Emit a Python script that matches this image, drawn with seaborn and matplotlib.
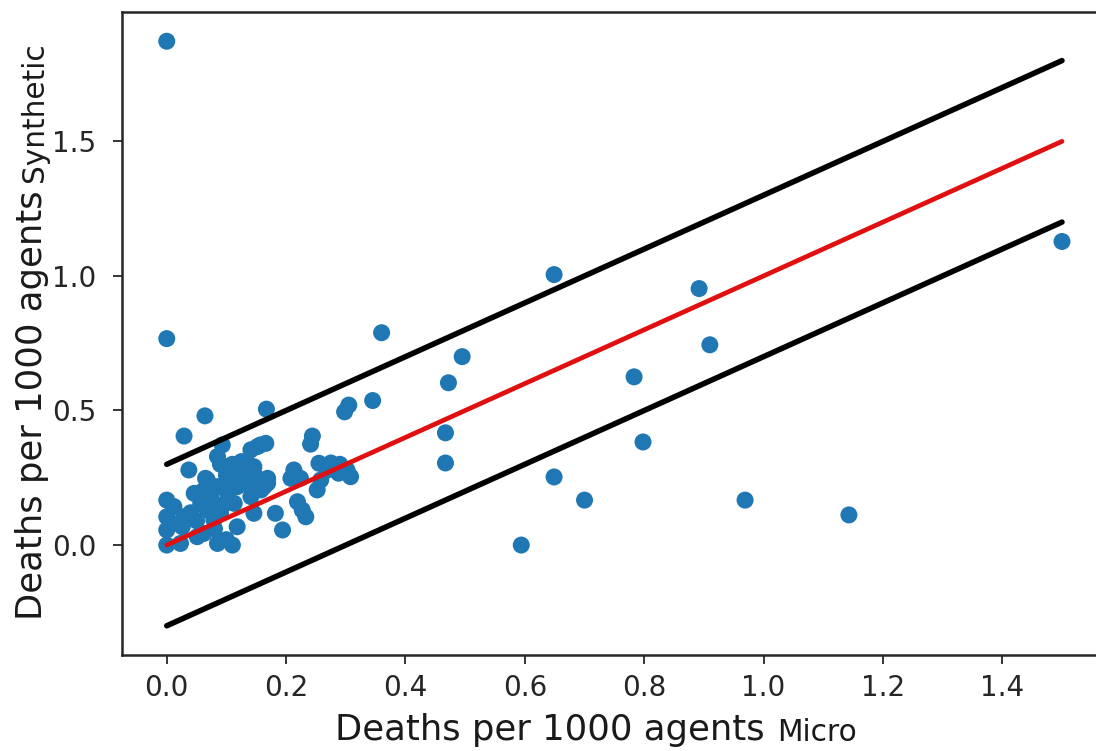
import matplotlib
matplotlib.use("Agg")
import matplotlib.pyplot as plt
import seaborn as sns
import pandas as pd

# ---- data ----
micro = [
    0.000, 0.000, 0.649, 0.360, 0.892, 0.910, 0.495, 0.783, 0.472, 0.345,
    0.305, 0.298, 0.467, 0.798, 0.467, 0.649, 0.700, 0.969, 1.143, 0.594,
    1.500,
    0.064, 0.029, 0.167, 0.244, 0.241, 0.093, 0.157, 0.141, 0.166, 0.152,
    0.037, 0.085, 0.065, 0.068, 0.107, 0.129, 0.135, 0.146, 0.146, 0.169,
    0.169, 0.163, 0.158, 0.085, 0.102, 0.118, 0.046, 0.057, 0.000, 0.000,
    0.000, 0.000, 0.029, 0.026, 0.068, 0.079, 0.062, 0.051, 0.085, 0.110,
    0.146, 0.182, 0.118, 0.023, 0.012, 0.113, 0.141, 0.213, 0.224, 0.208,
    0.255, 0.269, 0.258, 0.252, 0.302, 0.308, 0.288, 0.219, 0.233, 0.227,
    0.194, 0.010, 0.040, 0.050, 0.090, 0.100, 0.120, 0.130, 0.095, 0.075,
    0.110, 0.080, 0.100, 0.275, 0.290, 0.060, 0.105, 0.125, 0.090, 0.140,
]
synthetic = [
    1.872, 0.767, 1.005, 0.789, 0.953, 0.744, 0.700, 0.625, 0.603, 0.537,
    0.520, 0.495, 0.417, 0.383, 0.305, 0.253, 0.167, 0.167, 0.112, 0.000,
    1.128,
    0.480, 0.405, 0.505, 0.405, 0.375, 0.372, 0.372, 0.354, 0.378, 0.366,
    0.279, 0.329, 0.248, 0.242, 0.279, 0.268, 0.304, 0.291, 0.267, 0.248,
    0.230, 0.217, 0.205, 0.217, 0.192, 0.217, 0.192, 0.155, 0.167, 0.105,
    0.056, 0.000, 0.105, 0.068, 0.130, 0.093, 0.043, 0.031, 0.006, 0.000,
    0.118, 0.118, 0.068, 0.006, 0.143, 0.155, 0.180, 0.279, 0.248, 0.248,
    0.304, 0.279, 0.242, 0.205, 0.279, 0.254, 0.267, 0.161, 0.105, 0.130,
    0.056, 0.080, 0.120, 0.090, 0.300, 0.260, 0.250, 0.230, 0.150, 0.170,
    0.300, 0.060, 0.020, 0.305, 0.300, 0.200, 0.240, 0.310, 0.120, 0.240,
]
line_x = [0.0, 1.5]
identity_y = [0.0, 1.5]
upper_y = [0.3, 1.8]
lower_y = [-0.3, 1.2]

xticks = [0.0, 0.2, 0.4, 0.6, 0.8, 1.0, 1.2, 1.4]
yticks = [0.0, 0.5, 1.0, 1.5]

x_label = "Deaths per 1000 agents"
x_sub = "Micro"
y_label = "Deaths per 1000 agents"
y_sub = "Synthetic"

# ---- plot ----
sns.set_style("ticks")
plt.rcParams["font.family"] = ["DejaVu Sans"]

fig = plt.figure(figsize=(10.96, 7.51), dpi=100, facecolor="white")
# the reference is cropped at its right edge: the axes run to the figure edge
ax = fig.add_axes([0.1113, 0.1278, 0.8887, 0.8562])

df = pd.DataFrame({"micro": micro, "synthetic": synthetic})
sns.scatterplot(data=df, x="micro", y="synthetic", ax=ax, s=150,
                color="#1f77b4", linewidth=0, edgecolor="none", zorder=2)

lines = pd.DataFrame({"x": line_x, "mid": identity_y, "up": upper_y, "lo": lower_y})
sns.lineplot(data=lines, x="x", y="mid", ax=ax, color="#e01010", linewidth=3.4, zorder=3)
sns.lineplot(data=lines, x="x", y="up", ax=ax, color="black", linewidth=4.0, zorder=3)
sns.lineplot(data=lines, x="x", y="lo", ax=ax, color="black", linewidth=4.0, zorder=3)

ax.set_xlim(-0.075, 1.557)
ax.set_xticks(xticks)
ax.set_yticks(yticks)
ax.set_xticklabels([f"{v:.1f}" for v in xticks])
ax.set_yticklabels([f"{v:.1f}" for v in yticks])

for side in ["left", "top", "bottom"]:
    ax.spines[side].set_linewidth(1.8)
    ax.spines[side].set_color("#262626")
ax.spines["right"].set_visible(False)

ax.tick_params(axis="both", direction="out", length=6.5, width=1.3,
               color="#262626", labelsize=20, labelcolor="#262626")
ax.tick_params(axis="x", pad=7)
ax.tick_params(axis="y", pad=12)

# axis labels with a smaller trailing word
xl = ax.set_xlabel(x_label, fontsize=25.5, color="#1a1a1a", ha="left", va="baseline")
ax.xaxis.set_label_coords(0.2187, -0.1322)
yl = ax.set_ylabel(y_label, fontsize=25.5, color="#1a1a1a", ha="left", va="baseline",
                   rotation=90, rotation_mode="anchor")
ax.yaxis.set_label_coords(-0.0821, 0.0544)

ax.annotate(x_sub, xy=(1, 0), xycoords=xl, xytext=(12, 0),
            textcoords="offset pixels", ha="left", va="bottom",
            fontsize=21.3, color="#1a1a1a")
ax.annotate(y_sub, xy=(1, 1), xycoords=yl, xytext=(0, 8),
            textcoords="offset pixels", ha="right", va="bottom",
            rotation=90, fontsize=21.3, color="#1a1a1a")

fig.savefig("out.png", dpi=100, facecolor="white")
